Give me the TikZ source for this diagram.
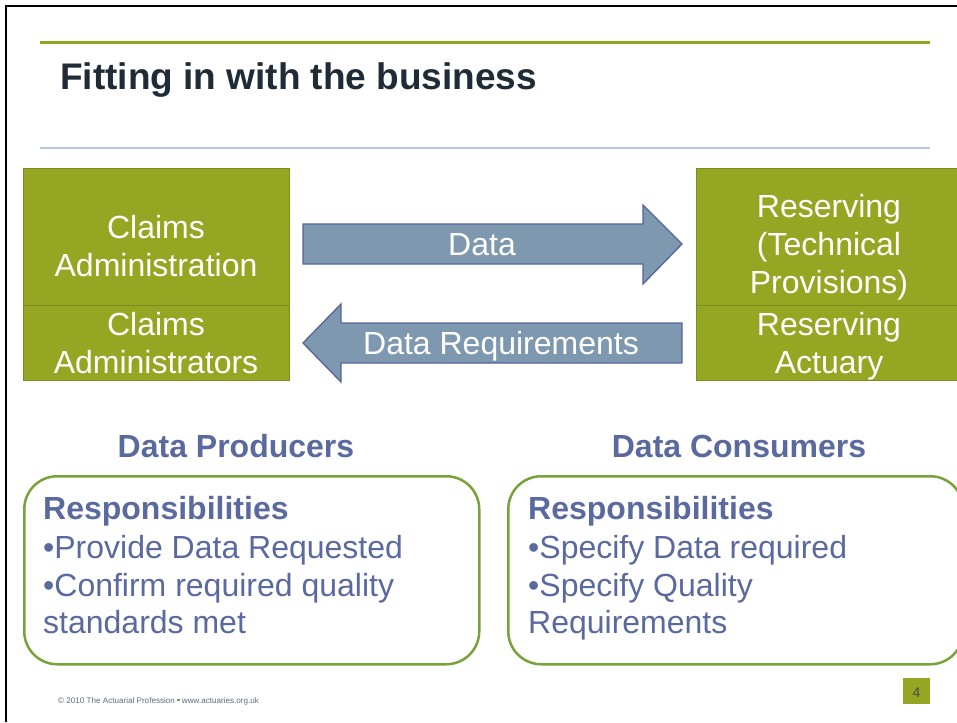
\documentclass[tikz,border=0pt]{standalone}
\usepackage{fontspec}
\setmainfont{Liberation Sans}
\definecolor{olivefill}{HTML}{95A623}
\definecolor{oliveedge}{HTML}{7E8E1E}
\definecolor{topgreen}{HTML}{94A51E}
\definecolor{rulegray}{HTML}{B8C8D6}
\definecolor{arrowfill}{HTML}{7E98AF}
\definecolor{arrowedge}{HTML}{56649C}
\definecolor{slate}{HTML}{5A6A9F}
\definecolor{respgreen}{HTML}{7AA23A}
\definecolor{titledark}{HTML}{1F2B36}
\definecolor{footgray}{HTML}{5F6B78}
\tikzset{
  olivebox/.style={draw=oliveedge, fill=olivefill, line width=0.8pt, inner sep=0pt, anchor=north west},
  wline/.style={text=white, font=\fontsize{32}{38}\selectfont, anchor=base, inner sep=0pt},
  blockarrow/.style={draw=arrowedge, fill=arrowfill, line width=1.3pt, line join=miter},
  heading/.style={text=slate, font=\fontsize{32}{38}\selectfont\bfseries, anchor=base, inner sep=0pt},
  bline/.style={text=slate, font=\fontsize{32}{38}\selectfont, anchor=base west, inner sep=0pt},
  respbox/.style={draw=respgreen, line width=2.5pt, rounded corners=33pt, inner sep=0pt, anchor=north west},
}
\begin{document}
\begin{tikzpicture}[x=1pt,y=-1pt]
\useasboundingbox (0,0) rectangle (957,722);
\fill[white] (0,0) rectangle (957,722);
% frame
\draw[black, line width=2.5pt] (6,722) -- (6,6) -- (957,6);
% header rules
\draw[topgreen, line width=3pt] (40,42.5) -- (930,42.5);
\draw[rulegray, line width=2pt] (40,147.7) -- (930,147.7);
\node[anchor=base west, inner sep=0pt, text=titledark, font=\fontsize{37}{44}\selectfont\bfseries] (title) at (60,90) {Fitting in with the business};
% olive boxes
\node[olivebox, minimum width=266pt, minimum height=137pt] (cadm) at (23,168) {};
\node[olivebox, minimum width=266pt, minimum height=75pt] (cadms) at (23,305) {};
\node[olivebox, minimum width=266pt, minimum height=137pt] (resv) at (696,168) {};
\node[olivebox, minimum width=266pt, minimum height=75pt] (ract) at (696,305) {};
\node[wline] (t1) at (156,238) {Claims};
\node[wline] (t2) at (156,276) {Administration};
\node[wline] (t3) at (156,335) {Claims};
\node[wline] (t4) at (156,373) {Administrators};
\node[wline] (t5) at (829,217) {Reserving};
\node[wline] (t6) at (829,255) {(Technical};
\node[wline] (t7) at (829,293) {Provisions)};
\node[wline] (t8) at (829,335) {Reserving};
\node[wline] (t9) at (829,373) {Actuary};
% block arrows
\draw[blockarrow] (303,224) -- (643,224) -- (643,205) -- (682,244) -- (643,284) -- (643,264) -- (303,264) -- cycle;
\draw[blockarrow] (682,323) -- (341,323) -- (341,304) -- (303,343) -- (341,382) -- (341,363) -- (682,363) -- cycle;
\node[wline] (data) at (482,255) {Data};
\node[wline] (dreq) at (501,354) {Data Requirements};
% headings
\node[heading] (prod) at (236,457) {Data Producers};
\node[heading] (cons) at (739,457) {Data Consumers};
% responsibility boxes
\node[respbox, minimum width=455pt, minimum height=188pt] (pbox) at (23,475) {};
\node[respbox, minimum width=455pt, minimum height=188pt] (cbox) at (507,475) {};
\node[bline, font=\fontsize{32}{38}\selectfont\bfseries] (p1) at (43,519.5) {Responsibilities};
\node[bline] (p2) at (43,558) {•Provide Data Requested};
\node[bline] (p3) at (43,596.5) {•Confirm required quality};
\node[bline] (p4) at (43,633.5) {standards met};
\node[bline, font=\fontsize{32}{38}\selectfont\bfseries] (c1) at (528,519.5) {Responsibilities};
\node[bline] (c2) at (528,558) {•Specify Data required};
\node[bline] (c3) at (528,596.5) {•Specify Quality};
\node[bline] (c4) at (528,633.5) {Requirements};
% footer
\node[anchor=base west, inner sep=0pt, text=footgray, font=\fontsize{8.1}{10}\selectfont] (foot) at (58,703) {© 2010 The Actuarial Profession \textcolor{respgreen}{\raisebox{1.8pt}{\rule{2.5pt}{2.5pt}}} www.actuaries.org.uk};
\node[fill=olivefill, minimum width=27pt, minimum height=26pt, inner sep=0pt, anchor=north west] (pg) at (903,678) {};
\node[anchor=base, inner sep=0pt, text=titledark!85, font=\fontsize{14}{16}\selectfont] (pgn) at (916.5,697) {4};
\end{tikzpicture}
\end{document}
